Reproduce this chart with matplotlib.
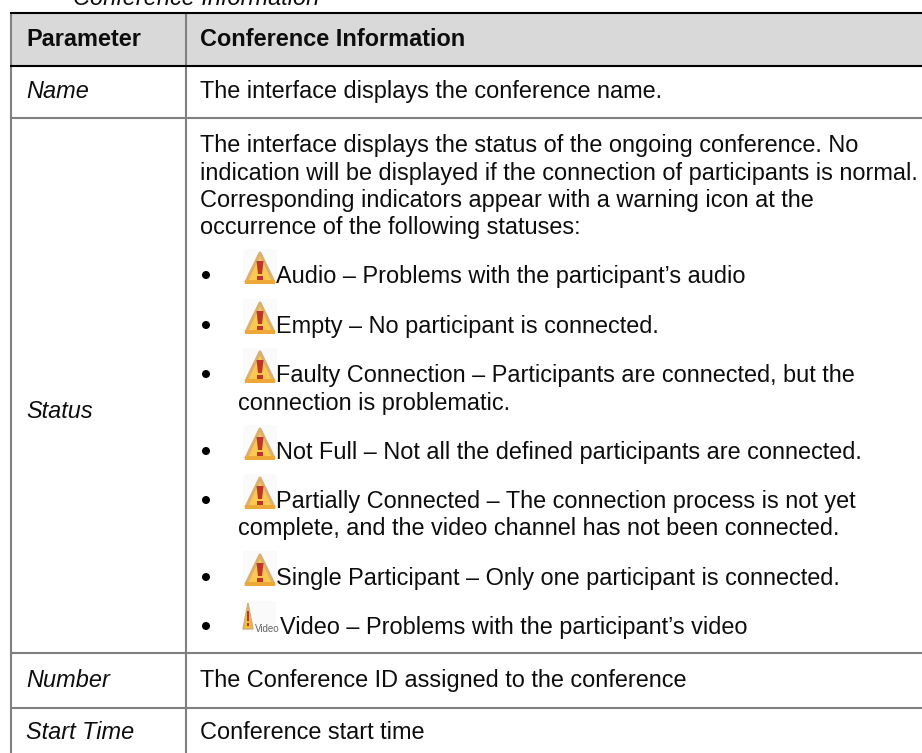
"""Conference Information parameter table, drawn in pixel coords."""
import matplotlib
matplotlib.use("Agg")
import matplotlib.pyplot as plt
from matplotlib.patches import Polygon, Circle, Rectangle

W, H = 922, 753
FONT = ["Liberation Sans", "DejaVu Sans"]

caption = "Conference Information"
headers = ["Parameter", "Conference Information"]
params = ["Name", "Status", "Number", "Start Time"]
intro = [
    "The interface displays the status of the ongoing conference. No",
    "indication will be displayed if the connection of participants is normal.",
    "Corresponding indicators appear with a warning icon at the",
    "occurrence of the following statuses:",
]
name_text = "The interface displays the conference name."
number_text = "The Conference ID assigned to the conference"
start_text = "Conference start time"
statuses = [
    ["Audio – Problems with the participant’s audio"],
    ["Empty – No participant is connected."],
    ["Faulty Connection – Participants are connected, but the", "connection is problematic."],
    ["Not Full – Not all the defined participants are connected."],
    ["Partially Connected – The connection process is not yet", "complete, and the video channel has not been connected."],
    ["Single Participant – Only one participant is connected."],
    ["Video – Problems with the participant’s video"],
]

# layout, in pixels; text y values are baselines
left, split = 11, 186
row_lines = [66, 118, 653, 708]
param_y = [98, 418, 687, 739]
intro_y = [152, 180, 207, 234]
status_y = [283, 333, 382, 459, 508, 585, 634]
wrap_gap = 28
col2_x = 200
bullet_x = 206
wrap_x = 238
status_x = 276
fs = 16.9

fig = plt.figure(figsize=(W / 100, H / 100), dpi=100)
ax = fig.add_axes([0, 0, 1, 1])
ax.set_xlim(0, W)
ax.set_ylim(H, 0)
ax.axis("off")


def put(x, y, s, **kw):
    ax.text(x, y, s, family=FONT, fontsize=fs, va="baseline", ha="left", color="#0d0d0d", **kw)


def warn_icon(x, y):
    # x = triangle centre, y = text baseline
    ax.add_patch(Rectangle((x - 17, y - 34), 34, 35, fc="#fafafa", ec="none", zorder=2))
    ax.add_patch(Polygon([(x - 14, y - 1), (x, y - 30), (x + 14, y - 1)], closed=True, fc="#fdc850",
                         ec="#d9b071", lw=2.2, joinstyle="round", zorder=3))
    ax.add_patch(Polygon([(x - 15, y - 3), (x + 15, y - 3), (x + 15, y + 1), (x - 15, y + 1)],
                         closed=True, fc="#eda838", ec="none", zorder=3))
    ax.add_patch(Polygon([(x - 3.5, y - 22), (x + 3.5, y - 22), (x + 2, y - 9), (x - 2, y - 9)],
                         closed=True, fc="#c0352a", ec="none", zorder=4))
    ax.add_patch(Rectangle((x - 3, y - 7), 6, 4, fc="#c0352a", ec="none", zorder=4))


def video_icon(x, y):
    ax.add_patch(Rectangle((x - 6, y - 33), 34, 31, fc="#fafafa", ec="none", zorder=2))
    ax.add_patch(Polygon([(x - 5, y - 5), (x, y - 31), (x + 5, y - 5)], closed=True,
                         fc="#f5b93f", ec="#c9b27f", lw=1, zorder=3))
    ax.add_patch(Rectangle((x - 1.2, y - 23), 2.4, 10, fc="#c0352a", ec="none", zorder=4))
    ax.add_patch(Rectangle((x - 1.2, y - 11), 2.4, 3, fc="#c0352a", ec="none", zorder=4))
    ax.text(x + 7, y - 2, "Video", family=FONT, fontsize=7, va="baseline", ha="left",
            color="#666666", zorder=4)


# header band and rules
ax.add_patch(Rectangle((left, 13), W - left, row_lines[0] - 13, fc="#d9d9d9", ec="none", zorder=0))
for y in row_lines[1:]:
    ax.plot([left, W], [y, y], color="#808080", lw=1.5, solid_capstyle="butt", zorder=1)
for x in (left, split):
    ax.plot([x, x], [13, H], color="#808080", lw=1.5, solid_capstyle="butt", zorder=1)
for y in (13, row_lines[0]):
    ax.plot([left - 1, W], [y, y], color="black", lw=1.5, solid_capstyle="butt", zorder=2)

put(73, 5, caption, style="italic")
put(26, 46, headers[0], weight="bold")
put(col2_x, 46, headers[1], weight="bold")
for name, y in zip(params, param_y):
    put(26, y, name, style="italic")

put(col2_x, param_y[0], name_text)
put(col2_x, param_y[2], number_text)
put(col2_x, param_y[3], start_text)
for line, y in zip(intro, intro_y):
    put(col2_x, y, line)

for i, (lines, y) in enumerate(zip(statuses, status_y)):
    ax.add_patch(Circle((bullet_x, y - 8), 4, fc="black", ec="none"))
    if i == len(statuses) - 1:
        video_icon(248, y)
        put(280, y, lines[0])
    else:
        warn_icon(260, y)
        put(status_x, y, lines[0])
    for j, extra in enumerate(lines[1:], start=1):
        put(wrap_x, y + j * wrap_gap - (1 if i == 4 else 0), extra)

fig.savefig("out.png", dpi=100)
